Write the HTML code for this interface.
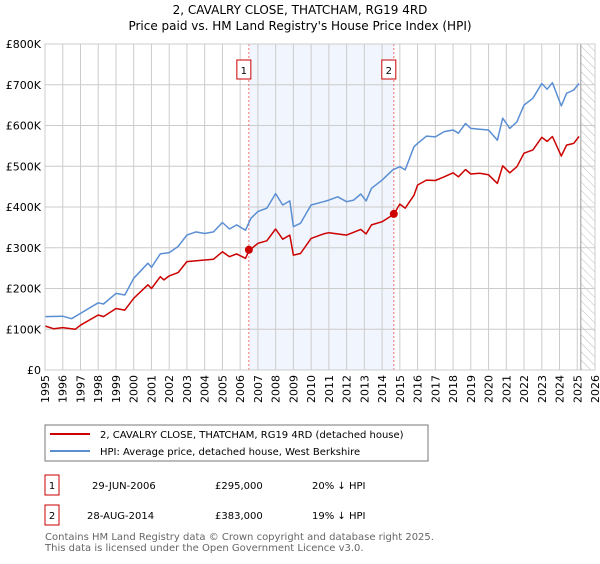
<!DOCTYPE html>
<html><head><meta charset="utf-8"><style>
body{margin:0;background:#fff;font-family:"DejaVu Sans","Liberation Sans",sans-serif;}
svg text{font-family:"DejaVu Sans","Liberation Sans",sans-serif;}
</style></head><body>
<svg id="chart" width="600" height="560" xmlns="http://www.w3.org/2000/svg">
<defs><pattern id="hatch" width="6" height="6" patternUnits="userSpaceOnUse" patternTransform="rotate(-45)"><line x1="0" y1="0" x2="0" y2="6" stroke="#bbb" stroke-width="1"/></pattern></defs>
<text x="300" y="14" text-anchor="middle" font-size="12">2, CAVALRY CLOSE, THATCHAM, RG19 4RD</text>
<text x="300" y="30" text-anchor="middle" font-size="12">Price paid vs. HM Land Registry's House Price Index (HPI)</text>
<g id="plot"></g>
<g>
<rect x="45" y="425" width="383" height="36" fill="#fff" stroke="#777"/>
<line x1="50" y1="434" x2="90" y2="434" stroke="#cc0000" stroke-width="2"/>
<text x="100" y="438" font-size="10">2, CAVALRY CLOSE, THATCHAM, RG19 4RD (detached house)</text>
<line x1="50" y1="451" x2="90" y2="451" stroke="#5b8fd4" stroke-width="2"/>
<text x="100" y="455" font-size="10">HPI: Average price, detached house, West Berkshire</text>
</g>
<g font-size="10">
<rect x="45" y="475" width="14" height="20" fill="#fff" stroke="#cc0000"/>
<text x="52" y="489" text-anchor="middle">1</text>
<text x="92" y="489">29-JUN-2006</text><text x="215" y="489">£295,000</text><text x="312" y="489">20% ↓ HPI</text>
<rect x="45" y="505" width="14" height="20" fill="#fff" stroke="#cc0000"/>
<text x="52" y="519" text-anchor="middle">2</text>
<text x="87" y="519">28-AUG-2014</text><text x="215" y="519">£383,000</text><text x="312" y="519">19% ↓ HPI</text>
</g>
<text x="45" y="540" font-size="10" fill="#666">Contains HM Land Registry data © Crown copyright and database right 2025.</text>
<text x="45" y="551" font-size="10" fill="#666">This data is licensed under the Open Government Licence v3.0.</text>
</svg>
<script>
const hpiYears=[1995,1996,1996.5,1997,1998,1998.3,1999,1999.5,2000,2000.8,2001,2001.5,2002,2002.5,2003,2003.5,2004,2004.5,2005,2005.4,2005.8,2006.3,2006.6,2007,2007.5,2008,2008.4,2008.8,2009,2009.4,2010,2010.7,2011,2011.5,2012,2012.4,2012.8,2013.1,2013.4,2014,2014.6,2015,2015.3,2015.8,2016,2016.5,2017,2017.5,2018,2018.3,2018.7,2019,2019.5,2020,2020.5,2020.8,2021.2,2021.6,2022,2022.5,2023,2023.3,2023.6,2024.1,2024.4,2024.8,2025.1];
const hpiValues=[131,132,126,139,165,162,188,184,225,262,252,285,288,303,331,339,335,339,362,346,356,343,372,389,397,433,405,415,352,360,405,413,417,425,413,417,432,415,446,466,491,499,491,548,556,574,572,585,589,581,605,593,591,589,564,618,593,609,650,667,703,689,705,648,679,687,703];
const priceYears=[1995,1995.5,1996,1996.7,1997,1998,1998.3,1999,1999.5,2000,2000.8,2001,2001.5,2001.7,2002,2002.5,2003,2004,2004.5,2005,2005.4,2005.8,2006.3,2006.5,2007,2007.5,2008,2008.4,2008.8,2009,2009.4,2010,2010.7,2011,2012,2012.8,2013.1,2013.4,2014,2014.66,2015,2015.3,2015.8,2016,2016.5,2017,2017.5,2018,2018.3,2018.7,2019,2019.5,2020,2020.5,2020.8,2021.2,2021.6,2022,2022.5,2023,2023.3,2023.6,2024.1,2024.4,2024.8,2025.1];
const priceValues=[108,101,104,100,110,135,131,151,147,176,209,200,229,221,231,239,266,270,272,290,278,285,274,293,311,317,346,321,331,282,286,323,334,337,331,345,334,356,364,382,407,397,429,454,466,465,474,484,474,492,481,483,479,458,501,484,499,532,540,571,561,573,525,552,556,573];
const saleYears=[2006.49,2014.66];
const saleValues=[295,383];
const saleLabels=["1","2"];
const yTicks=[0,100,200,300,400,500,600,700,800];
const yTickLabels=["£0","£100K","£200K","£300K","£400K","£500K","£600K","£700K","£800K"];
const xTicks=[1995,1996,1997,1998,1999,2000,2001,2002,2003,2004,2005,2006,2007,2008,2009,2010,2011,2012,2013,2014,2015,2016,2017,2018,2019,2020,2021,2022,2023,2024,2025,2026];
const dataEnd=2025.2;

const L=45,R=595,T=44,B=370;
const x=v=>L+(v-1995)/(2026-1995)*(R-L);
const y=v=>B-v/800*(B-T);
const NS="http://www.w3.org/2000/svg";
const g=document.getElementById('plot');
function mk(t,a,p){const e=document.createElementNS(NS,t);for(const k in a)e.setAttribute(k,a[k]);(p||g).appendChild(e);return e;}

const shade=mk('rect',{x:x(saleYears[0]),y:T,width:x(saleYears[1])-x(saleYears[0]),height:B-T,fill:'#eef3fd',opacity:0.8});


const hat=mk('rect',{x:x(dataEnd),y:T,width:R-x(dataEnd),height:B-T,fill:'url(#hatch)'});



yTicks.forEach((t,i)=>{
 const ln=mk('line',{x1:L,x2:R,y1:y(t),y2:y(t),stroke:'#ccc','stroke-width':1});
 
 
 const tx=mk('text',{x:L-4,y:y(t)+4,'text-anchor':'end','font-size':11});
 
 
 tx.textContent=yTickLabels[i];
});
xTicks.forEach(t=>{
 const ln=mk('line',{x1:x(t),x2:x(t),y1:T,y2:B,stroke:'#ccc','stroke-width':1});
 
 
 const tx=mk('text',{x:0,y:0,'text-anchor':'end','font-size':11,transform:`translate(${x(t)+4},${B+5}) rotate(-90)`});
 
 
 tx.textContent=t;
});
const el=mk('line',{x1:x(dataEnd),x2:x(dataEnd),y1:T,y2:B,stroke:'#999','stroke-width':1});



saleYears.forEach((s,i)=>{
 const ln=mk('line',{x1:x(s),x2:x(s),y1:T,y2:B,stroke:'#f07070','stroke-width':1,'stroke-dasharray':'2,2'});
 
 
});

function path(xs,vs,c,name){
 const d=xs.map((v,i)=>(i?'L':'M')+x(v).toFixed(1)+','+y(vs[i]).toFixed(1)).join('');
 const p=mk('path',{d:d,fill:'none',stroke:c,'stroke-width':1.5,'stroke-linejoin':'round'});
 
 
}
path(hpiYears,hpiValues,'#5b8fd4','hpi-line');
path(priceYears,priceValues,'#cc0000','price-line');

saleYears.forEach((s,i)=>{
 const c=mk('circle',{cx:x(s),cy:y(saleValues[i]),r:4,fill:'#cc0000'});
 
 
 const b=mk('rect',{x:x(s)-12,y:60,width:14,height:19,fill:'#fff',stroke:'#cc0000'});
 
 
 const t=mk('text',{x:x(s)-5,y:74,'text-anchor':'middle','font-size':10});
 
 
 t.textContent=saleLabels[i];
});
const fr=mk('rect',{x:L,y:T,width:R-L,height:B-T,fill:'none',stroke:'#ccc'});


</script>
</body></html>
